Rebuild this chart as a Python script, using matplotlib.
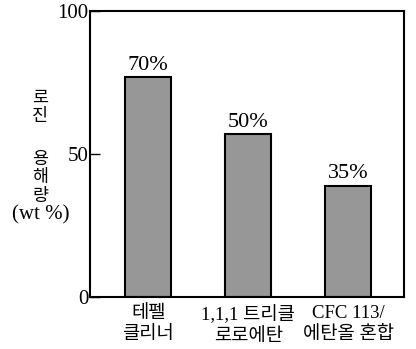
import matplotlib.pyplot as plt

# 데이터
categories = ['테펠\n클리너', '1,1,1 트리클\n로로에탄', 'CFC 113/\n에탄올 혼합']
bar_heights = [77, 57, 39]
bar_labels = ['70%', '50%', '35%']
y_ticks = [0, 50, 100]
ylabel_lines = ['로', '진', '용', '해', '량', '(wt %)']

serif = ['Liberation Serif', 'Noto Sans CJK KR']

fig = plt.figure(figsize=(4.16, 3.49), dpi=100)
ax = fig.add_axes([0.216, 0.149, 0.755, 0.819])

x = range(len(categories))
bars = ax.bar(x, bar_heights, width=0.46, color='#979797', edgecolor='black', linewidth=1.5)

for b, lab in zip(bars, bar_labels):
    ax.text(b.get_x() + b.get_width() / 2, b.get_height() + 0.8, lab,
            ha='center', va='bottom', fontsize=16, family=serif)

ax.set_xlim(-0.585, 2.555)
ax.set_ylim(0, 100)
ax.set_yticks(y_ticks)
ax.set_yticklabels([str(t) for t in y_ticks], family=serif, fontsize=15)
ax.tick_params(axis='y', direction='in', length=7, width=1, pad=1)
ax.set_xticks(list(x))
ax.set_xticklabels(categories, family=serif, fontsize=13.5, linespacing=1.3)
ax.tick_params(axis='x', length=0, pad=6)

for s in ax.spines.values():
    s.set_linewidth(1.5)

# 세로 축 제목 (한 글자씩 세로로)
ylabel_pos = [0.716, 0.665, 0.542, 0.490, 0.436, 0.384]
for txt, yp in zip(ylabel_lines, ylabel_pos):
    fs = 15 if txt.startswith('(') else 12.5
    fig.text(0.097, yp, txt, ha='center', va='center', fontsize=fs, family=serif)

fig.savefig('out.png', dpi=100)
